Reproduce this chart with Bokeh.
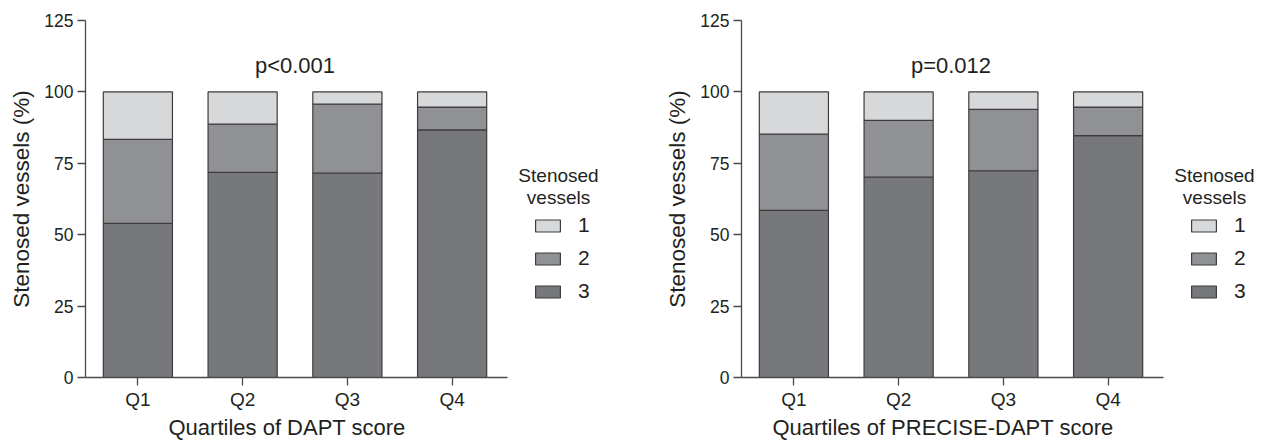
from bokeh.plotting import figure
from bokeh.layouts import row
from bokeh.models import (Range1d, FixedTicker, Label, Legend, Title,
                          LegendItem, ColumnDataSource)
from bokeh.embed import file_html
from bokeh.resources import INLINE

# ---------------- data ----------------
quartiles = ["Q1", "Q2", "Q3", "Q4"]
y_ticks = [0, 25, 50, 75, 100, 125]
vessel_groups = ["1", "2", "3"]

dapt_3 = [54.0, 71.8, 71.6, 86.7]
dapt_2 = [29.4, 16.9, 24.1, 8.0]
dapt_1 = [16.6, 11.3, 4.3, 5.3]

precise_3 = [58.5, 70.2, 72.4, 84.7]
precise_2 = [26.7, 19.8, 21.5, 10.0]
precise_1 = [14.8, 10.0, 6.1, 5.3]

p_dapt = "p<0.001"
p_precise = "p=0.012"
x_label_dapt = "Quartiles of DAPT score"
x_label_precise = "Quartiles of PRECISE-DAPT score"
y_label = "Stenosed vessels (%)"
legend_title = ["Stenosed", "vessels"]

# ---------------- style ----------------
colors = {"1": "#d7d8da", "2": "#909195", "3": "#77787c"}
FONT = "Liberation Sans"
TEXT = "#231f20"
AXIS = "#4a4a4a"
FIG_H = 441
TOP = 20
BOTTOM = 64
PX_PER_CAT = 104.75


def make_chart(v3, v2, v1, ptext, xlabel, width, left, xlabel_offset):
    n = len(quartiles)
    xs = [i + 0.5 for i in range(n)]
    frame_w = width - left
    src = ColumnDataSource(dict(x=xs, s3=v3, s2=v2, s1=v1))
    p = figure(x_range=Range1d(0, frame_w / PX_PER_CAT),
               y_range=Range1d(0, 125),
               width=width, height=FIG_H,
               output_backend="svg", toolbar_location=None,
               min_border_left=left, min_border_right=0,
               min_border_top=TOP, min_border_bottom=BOTTOM)
    rs = p.vbar_stack(["s3", "s2", "s1"], x="x", width=0.66, source=src,
                      fill_color=[colors["3"], colors["2"], colors["1"]],
                      line_color="#3c3c3c", line_width=1.2)

    p.xgrid.visible = False
    p.ygrid.visible = False
    p.outline_line_color = None
    p.background_fill_color = "white"
    p.border_fill_color = "white"

    for ax in (p.xaxis[0], p.yaxis[0]):
        ax.axis_line_color = AXIS
        ax.axis_line_width = 1.3
        ax.major_tick_line_color = AXIS
        ax.major_tick_line_width = 1.3
        ax.major_tick_out = 8
        ax.major_tick_in = 0
        ax.minor_tick_line_color = None
        ax.major_label_text_font = FONT
        ax.major_label_text_color = TEXT
        ax.axis_label_text_font = FONT
        ax.axis_label_text_color = TEXT
        ax.axis_label_text_font_style = "normal"

    p.yaxis.ticker = FixedTicker(ticks=y_ticks)
    p.yaxis.major_label_text_font_size = "17.5px"
    p.yaxis.major_label_standoff = 4
    p.yaxis.axis_label = y_label
    p.yaxis.axis_label_text_font_size = "22.5px"
    p.yaxis.axis_label_standoff = 7

    p.xaxis.ticker = FixedTicker(ticks=xs)
    p.xaxis.major_label_overrides = {x: q for x, q in zip(xs, quartiles)}
    p.xaxis.bounds = (0, n + 0.03)
    p.xaxis.major_label_text_font_size = "19px"
    p.xaxis.major_label_standoff = 3

    p.add_layout(Title(text=xlabel, align="left", offset=xlabel_offset,
                       standoff=0, text_font=FONT, text_font_size="22px",
                       text_font_style="normal", text_color=TEXT), "below")

    frame_h = FIG_H - TOP - BOTTOM
    p.add_layout(Label(x=n / 2, y=frame_h - 45, x_units="data", y_units="screen",
                       text=ptext, text_align="center", text_baseline="alphabetic",
                       text_font=FONT, text_font_size="22px", text_color=TEXT))

    for t, yb in zip(legend_title, [202, 180]):
        p.add_layout(Label(x=473, y=yb, x_units="screen", y_units="screen",
                           text=t, text_align="center", text_baseline="alphabetic",
                           text_font=FONT, text_font_size="19px", text_color=TEXT))

    items = [LegendItem(label=vessel_groups[0], renderers=[rs[2]]),
             LegendItem(label=vessel_groups[1], renderers=[rs[1]]),
             LegendItem(label=vessel_groups[2], renderers=[rs[0]])]
    leg = Legend(items=items, location=(447, 74), orientation="vertical",
                 glyph_width=31, glyph_height=15, label_standoff=15, spacing=9,
                 padding=0, margin=0, border_line_color=None,
                 background_fill_alpha=0,
                 label_text_font=FONT, label_text_font_size="21px",
                 label_text_color=TEXT)
    p.add_layout(leg, "center")
    return p


p1 = make_chart(dapt_3, dapt_2, dapt_1, p_dapt, x_label_dapt, 640, 85, 83)
p2 = make_chart(precise_3, precise_2, precise_1, p_precise, x_label_precise, 625, 101, 31)

layout = row(p1, p2)
open("out.html", "w").write(file_html(layout, INLINE))
